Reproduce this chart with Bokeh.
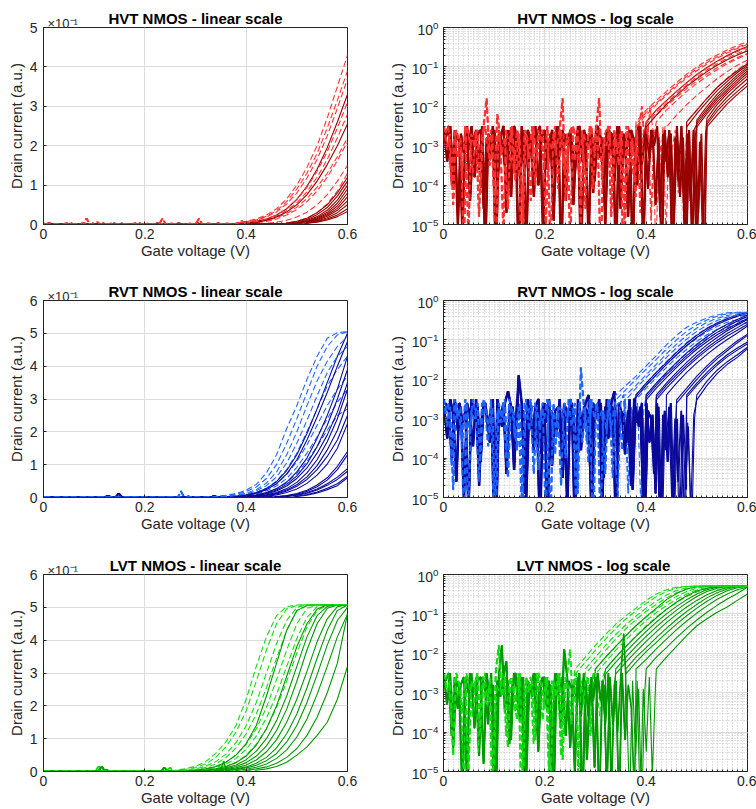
import numpy as np
from bokeh.plotting import figure
from bokeh.layouts import gridplot
from bokeh.models import FixedTicker, LogTicker, Label, CustomJSTickFormatter, Range1d
from bokeh.embed import file_html
from bokeh.resources import INLINE

# ------------------------------------------------------------------ data
V_END = 0.6          # last gate voltage of every sweep (V)
ON_STEP = 0.02       # sampling step of the above-threshold part (V)
NOISE_STEP = 0.006   # sampling step of the noise-floor records (V)
# sampling phase (V) of the noise record of each sweep
NOISE_PHASE = [0.0, 0.003, 0.0015, 0.0045, 0.00075, 0.00375, 0.00225, 0.00525,
               0.0012, 0.0042, 0.0027, 0.0057, 0.0005, 0.0035, 0.002]

x_ticks = [0, 0.2, 0.4, 0.6]
x_minor = [round(0.01 * i, 2) for i in range(61)]
lin_ticks_5 = [0, 0.1, 0.2, 0.3, 0.4, 0.5]
lin_ticks_6 = [0, 0.1, 0.2, 0.3, 0.4, 0.5, 0.6]

# ---- HVT: above-threshold current (a.u.), each sweep ends at 0.6 V
hvt_dark_on = [
    [0.004, 0.008, 0.014, 0.024, 0.04, 0.064, 0.097, 0.14, 0.195, 0.26, 0.33],
    [0.003, 0.006, 0.011, 0.019, 0.032, 0.05, 0.076, 0.11, 0.152, 0.2, 0.255],
    [0.004, 0.008, 0.016, 0.03, 0.05, 0.08, 0.12],
    [0.003, 0.0065, 0.013, 0.025, 0.043, 0.072, 0.11],
    [0.0045, 0.01, 0.02, 0.036, 0.062, 0.10],
    [0.004, 0.0085, 0.017, 0.031, 0.054, 0.09],
    [0.0035, 0.0075, 0.015, 0.027, 0.047, 0.08],
    [0.003, 0.0065, 0.013, 0.024, 0.041, 0.07],
    [0.005, 0.011, 0.021, 0.036, 0.06],
    [0.004, 0.009, 0.017, 0.03, 0.05],
    [0.0035, 0.0075, 0.014, 0.024, 0.04],
    [0.003, 0.006, 0.0115, 0.02, 0.033],
]
hvt_bright_on = [
    [0.004, 0.008, 0.014, 0.024, 0.04, 0.065, 0.10, 0.145, 0.2, 0.27, 0.35, 0.43],
    [0.0035, 0.007, 0.012, 0.021, 0.035, 0.058, 0.09, 0.13, 0.18, 0.245, 0.315, 0.39],
    [0.003, 0.006, 0.011, 0.019, 0.032, 0.052, 0.08, 0.118, 0.165, 0.225, 0.295, 0.37],
    [0.004, 0.008, 0.014, 0.024, 0.04, 0.063, 0.094, 0.135, 0.185, 0.245, 0.31],
    [0.0035, 0.007, 0.012, 0.021, 0.035, 0.055, 0.083, 0.12, 0.165, 0.22, 0.28],
    [0.003, 0.006, 0.010, 0.017, 0.028, 0.044, 0.066, 0.095, 0.13, 0.172, 0.22],
    [0.004, 0.008, 0.014, 0.024, 0.038, 0.058, 0.085, 0.12, 0.162, 0.21],
    [0.003, 0.006, 0.011, 0.019, 0.031, 0.05, 0.076, 0.11, 0.15],
    [0.004, 0.008, 0.016, 0.03, 0.052, 0.085, 0.13],
]
# ---- HVT: noise floor below threshold, log10 of current
hvt_noise_a = [
    -2.6, -3.4, -2.5, -4.1, -2.7, -2.9, -5.2, -2.6, -3.1, -2.5,
    -3.8, -2.7, -2.6, -4.6, -2.8, -3.3, -2.5, -6.0, -2.7, -2.9,
    -3.5, -2.6, -4.3, -2.5, -2.8, -3.9, -2.6, -5.5, -2.7, -3.0,
    -2.5, -4.0, -2.8, -2.6, -3.6, -2.7, -4.9, -2.5, -3.2, -2.6,
    -4.4, -2.7, -2.9, -3.7, -2.5, -6.0, -2.6, -3.0, -2.7, -4.2,
    -2.5, -3.3, -2.8, -5.0, -2.6, -2.7, -3.9, -2.5, -4.6, -2.7,
    -3.1, -2.6, -5.8, -2.8, -2.5, -3.5, -2.7, -4.1, -2.6, -3.0,
    -2.5, -4.8, -2.7, -3.4, -2.6, -6.0, -2.8, -3.9, -2.5, -5.1,
    -2.7, -4.4, -2.6, -6.0, -2.9, -5.3, -2.7, -4.6]
hvt_noise_b = [
    -2.8, -2.5, -3.9, -2.6, -5.0, -2.7, -3.2, -2.5, -4.4, -2.9,
    -2.6, -3.6, -2.5, -5.7, -2.7, -3.0, -2.6, -4.0, -2.8, -2.5,
    -4.7, -2.6, -3.3, -2.7, -6.0, -2.5, -3.7, -2.6, -2.9, -4.3,
    -2.7, -2.5, -5.2, -2.8, -3.1, -2.6, -3.8, -2.5, -6.0, -2.7,
    -3.0, -2.6, -4.5, -2.8, -2.5, -3.4, -2.7, -5.4, -2.6, -3.9,
    -2.5, -2.8, -4.1, -2.6, -3.2, -2.7, -6.0, -2.5, -3.6, -2.8,
    -4.8, -2.6, -2.9, -4.0, -2.5, -5.6, -2.7, -3.3, -2.6, -4.5,
    -2.8, -6.0, -2.6, -3.8, -2.7, -5.0, -2.5, -4.3, -2.8, -6.0,
    -2.6, -5.5, -2.9, -4.7, -2.7, -6.0, -3.0, -5.2]
hvt_noise_c = [
    -2.5, -3.1, -2.7, -4.5, -2.6, -2.9, -3.8, -2.5, -5.3, -2.7,
    -3.0, -2.6, -4.2, -2.5, -1.8, -3.5, -2.7, -6.0, -2.6, -3.2,
    -2.8, -4.6, -2.5, -3.7, -2.6, -2.9, -5.1, -2.7, -3.3, -2.5,
    -4.0, -2.6, -2.8, -3.6, -2.5, -5.8, -2.7, -3.1, -2.6, -1.8,
    -4.4, -2.8, -2.5, -3.4, -2.6, -5.0, -2.7, -3.0, -2.5, -4.1,
    -2.6, -1.8, -3.9, -2.7, -2.5, -4.8, -2.6, -3.2, -2.7, -6.0,
    -2.5, -3.6, -2.8, -4.3, -2.6, -2.0, -3.0, -2.5, -4.9, -2.7,
    -2.6, -3.7, -2.5, -5.4, -2.7, -3.1, -2.6, -4.2, -2.8, -5.6,
    -2.7]
hvt_noise_d = [
    -2.7, -2.5, -4.0, -2.6, -3.3, -2.8, -5.6, -2.5, -2.9, -3.7,
    -2.6, -4.8, -2.7, -2.5, -3.2, -2.6, -4.3, -2.2, -2.8, -5.2,
    -2.6, -3.0, -2.5, -3.9, -2.7, -6.0, -2.6, -2.8, -4.4, -2.5,
    -3.4, -2.7, -2.6, -5.0, -2.8, -3.1, -2.5, -4.1, -2.6, -3.6,
    -2.7, -5.5, -2.5, -2.9, -3.8, -2.6, -4.6, -2.7, -2.5, -3.3,
    -2.6, -6.0, -2.8, -3.0, -2.5, -4.2, -2.7, -3.5, -2.6, -5.1,
    -2.5, -2.9, -3.9, -2.6, -4.7, -2.7, -3.2, -2.0, -2.6, -5.9,
    -2.7, -3.4, -2.5, -4.5, -2.6, -2.9, -4.0, -2.6, -5.1, -2.8,
    -3.6]

# ---- RVT
rvt_dark_on = [
    [0.004, 0.008, 0.015, 0.027, 0.048, 0.082, 0.13, 0.195, 0.27, 0.35, 0.43, 0.50],
    [0.0035, 0.007, 0.013, 0.024, 0.042, 0.072, 0.115, 0.175, 0.245, 0.32, 0.40, 0.475],
    [0.004, 0.008, 0.015, 0.027, 0.047, 0.078, 0.12, 0.18, 0.25, 0.33, 0.43],
    [0.0035, 0.007, 0.013, 0.023, 0.04, 0.066, 0.103, 0.155, 0.22, 0.3, 0.39],
    [0.003, 0.006, 0.011, 0.02, 0.035, 0.058, 0.09, 0.135, 0.19, 0.26, 0.35],
    [0.004, 0.008, 0.015, 0.027, 0.046, 0.075, 0.115, 0.17, 0.24, 0.33],
    [0.0035, 0.007, 0.013, 0.023, 0.039, 0.063, 0.097, 0.145, 0.205, 0.29],
    [0.003, 0.006, 0.011, 0.02, 0.034, 0.055, 0.085, 0.125, 0.175, 0.25],
    [0.004, 0.008, 0.015, 0.026, 0.043, 0.068, 0.102, 0.15, 0.225],
    [0.003, 0.006, 0.012, 0.022, 0.038, 0.06, 0.095, 0.14],
    [0.0025, 0.005, 0.01, 0.019, 0.033, 0.053, 0.085, 0.13],
    [0.004, 0.008, 0.015, 0.026, 0.042, 0.062, 0.088],
    [0.0035, 0.007, 0.013, 0.023, 0.037, 0.055, 0.08],
    [0.004, 0.009, 0.017, 0.028, 0.042, 0.065],
    [0.003, 0.007, 0.014, 0.024, 0.036, 0.06],
]
rvt_bright_on = [
    [0.004, 0.007, 0.012, 0.022, 0.04, 0.075, 0.13, 0.21, 0.28, 0.36, 0.43, 0.485, 0.502, 0.505],
    [0.003, 0.0055, 0.01, 0.018, 0.032, 0.058, 0.10, 0.165, 0.24, 0.32, 0.40, 0.46, 0.495, 0.505],
    [0.004, 0.007, 0.013, 0.024, 0.044, 0.078, 0.13, 0.2, 0.28, 0.355, 0.415, 0.46, 0.49],
    [0.003, 0.006, 0.011, 0.02, 0.036, 0.063, 0.105, 0.165, 0.235, 0.31, 0.38, 0.43, 0.46],
    [0.004, 0.008, 0.015, 0.028, 0.05, 0.085, 0.135, 0.2, 0.27, 0.34, 0.39, 0.43],
    [0.0035, 0.007, 0.013, 0.024, 0.042, 0.07, 0.11, 0.16, 0.22, 0.28, 0.33, 0.37],
    [0.003, 0.006, 0.011, 0.02, 0.035, 0.058, 0.092, 0.135, 0.185, 0.24, 0.29, 0.33],
    [0.004, 0.008, 0.014, 0.026, 0.045, 0.073, 0.11, 0.155, 0.205, 0.25, 0.27],
]
rvt_noise_a = [
    -2.7, -3.5, -2.5, -2.9, -4.6, -2.6, -3.1, -2.8, -5.4, -2.5,
    -3.0, -2.7, -4.1, -2.6, -2.9, -3.6, -2.5, -6.0, -2.8, -3.2,
    -2.6, -2.3, -2.7, -4.3, -2.5, -3.0, -2.8, -5.0, -2.6, -3.4,
    -2.7, -2.5, -3.9, -2.6, -5.6, -2.8, -2.9, -3.3, -2.5, -4.5,
    -2.7, -3.1, -2.6, -6.0, -2.5, -3.8, -2.7, -2.8, -4.2, -2.6,
    -3.0, -2.5, -5.2, -2.7, -3.5, -2.6, -2.3, -4.0, -2.8, -2.9,
    -3.6, -2.5, -4.8, -2.7, -3.2, -2.6, -5.7, -2.8, -3.0, -4.4,
    -2.6, -6.0, -2.9, -3.8, -2.7, -5.1, -3.0, -4.6, -2.8, -6.0,
    -3.1, -5.3, -2.9, -4.4]
rvt_noise_b = [
    -2.6, -2.8, -4.0, -2.5, -3.3, -2.7, -5.1, -2.6, -2.9, -3.7,
    -2.5, -4.7, -2.8, -2.6, -3.2, -2.7, -5.9, -2.5, -3.0, -2.6,
    -4.4, -2.8, -2.7, -3.5, -1.9, -2.6, -4.9, -2.5, -2.9, -3.8,
    -2.7, -6.0, -2.6, -3.1, -2.5, -4.2, -2.8, -2.7, -3.6, -2.6,
    -5.3, -2.5, -2.9, -4.0, -2.7, -3.3, -2.6, -2.4, -5.8, -2.8,
    -3.0, -2.6, -4.5, -2.5, -3.4, -2.7, -6.0, -2.6, -2.9, -3.9,
    -2.8, -4.7, -2.5, -3.1, -2.7, -5.5, -2.6, -3.6, -2.9, -4.9,
    -2.7, -6.0, -2.8, -4.1, -2.6, -5.6, -3.0, -6.0, -2.9, -4.8,
    -3.2, -6.0, -3.0, -5.0]
rvt_noise_c = [
    -2.5, -3.2, -2.7, -4.8, -2.6, -2.9, -3.6, -2.5, -5.4, -2.8,
    -3.0, -2.6, -4.1, -2.5, -2.8, -3.4, -2.7, -6.0, -2.6, -3.1,
    -2.5, -4.5, -2.7, -2.9, -3.8, -2.6, -5.0, -2.5, -3.3, -2.7,
    -2.6, -4.3, -2.8, -3.0, -2.5, -5.7, -2.6, -3.5, -2.7, -2.9,
    -4.0, -2.5, -3.2, -2.6, -4.9, -1.7, -2.7, -3.6, -2.5, -6.0,
    -2.6, -3.0, -2.8, -4.4, -2.5, -3.3, -2.7, -5.2, -2.6, -2.4,
    -3.9, -2.7, -4.6, -2.5, -3.1, -2.6, -5.5]
rvt_noise_d = [
    -2.8, -2.6, -4.2, -2.5, -3.0, -2.7, -5.5, -2.6, -3.4, -2.5,
    -2.9, -4.6, -2.6, -2.7, -3.7, -2.5, -6.0, -2.8, -3.1, -2.6,
    -4.0, -2.5, -2.8, -3.5, -2.7, -5.1, -2.6, -3.0, -2.5, -4.4,
    -2.7, -3.2, -2.6, -5.8, -2.5, -2.9, -3.9, -2.7, -4.7, -2.6,
    -3.1, -2.5, -2.8, -5.3, -2.6, -3.6, -2.7, -4.1, -2.5, -3.0,
    -2.6, -5.9, -2.8, -3.3, -2.5, -4.5, -2.7, -2.6, -3.8, -2.5,
    -4.9, -2.7, -3.2, -2.6, -5.2, -2.8, -3.0]

# ---- LVT
lvt_dark_on = [
    [0.004, 0.008, 0.015, 0.028, 0.05, 0.085, 0.14, 0.23, 0.33, 0.43, 0.49, 0.506, 0.508, 0.508, 0.508, 0.508],
    [0.004, 0.008, 0.015, 0.027, 0.047, 0.08, 0.13, 0.2, 0.29, 0.38, 0.45, 0.495, 0.507, 0.508, 0.508],
    [0.003, 0.006, 0.011, 0.02, 0.036, 0.062, 0.1, 0.155, 0.23, 0.32, 0.41, 0.475, 0.503, 0.508, 0.508],
    [0.004, 0.008, 0.015, 0.027, 0.047, 0.078, 0.125, 0.19, 0.275, 0.37, 0.45, 0.497, 0.507, 0.508],
    [0.003, 0.006, 0.011, 0.02, 0.035, 0.06, 0.097, 0.15, 0.22, 0.305, 0.395, 0.465, 0.502, 0.508],
    [0.004, 0.008, 0.014, 0.025, 0.043, 0.072, 0.115, 0.175, 0.255, 0.345, 0.43, 0.49, 0.507],
    [0.003, 0.006, 0.011, 0.019, 0.033, 0.055, 0.09, 0.14, 0.21, 0.295, 0.385, 0.46, 0.5],
    [0.004, 0.007, 0.013, 0.023, 0.04, 0.066, 0.105, 0.16, 0.235, 0.32, 0.41, 0.48],
    [0.004, 0.008, 0.014, 0.025, 0.043, 0.07, 0.11, 0.165, 0.24, 0.33, 0.48],
    [0.004, 0.008, 0.015, 0.028, 0.05, 0.075, 0.11, 0.15, 0.22, 0.32],
]
lvt_bright_on = [
    [0.004, 0.008, 0.016, 0.03, 0.055, 0.09, 0.14, 0.22, 0.32, 0.41, 0.475, 0.502, 0.507, 0.508, 0.508, 0.508, 0.508, 0.508],
    [0.003, 0.006, 0.012, 0.023, 0.043, 0.075, 0.12, 0.185, 0.275, 0.37, 0.45, 0.495, 0.506, 0.508, 0.508, 0.508, 0.508, 0.508],
    [0.004, 0.008, 0.016, 0.03, 0.053, 0.088, 0.14, 0.21, 0.3, 0.39, 0.46, 0.5, 0.507, 0.508, 0.508, 0.508, 0.508],
    [0.003, 0.006, 0.012, 0.023, 0.042, 0.072, 0.115, 0.175, 0.255, 0.345, 0.43, 0.49, 0.505, 0.508, 0.508, 0.508, 0.508],
    [0.004, 0.008, 0.015, 0.028, 0.05, 0.083, 0.13, 0.195, 0.28, 0.37, 0.45, 0.497, 0.507, 0.508, 0.508, 0.508],
    [0.003, 0.006, 0.012, 0.022, 0.04, 0.068, 0.108, 0.163, 0.235, 0.32, 0.405, 0.47, 0.502, 0.508, 0.508, 0.508],
    [0.004, 0.008, 0.015, 0.028, 0.05, 0.083, 0.13, 0.195, 0.275, 0.36, 0.44, 0.49, 0.506, 0.508, 0.508],
]
lvt_noise_a = [
    -2.6, -3.3, -2.5, -4.4, -2.7, -2.9, -5.6, -2.6, -3.0, -2.5,
    -3.9, -2.7, -2.6, -4.8, -2.5, -3.2, -2.8, -6.0, -2.6, -1.8,
    -3.5, -2.7, -4.2, -2.5, -2.9, -3.7, -2.6, -5.3, -2.8, -3.1,
    -2.5, -4.5, -2.7, -2.6, -3.4, -2.8, -6.0, -2.5, -3.0, -2.6,
    -4.1, -2.7, -2.9, -5.0, -2.6, -3.6, -2.5, -4.7, -2.8, -3.2,
    -2.6, -6.0, -2.7, -3.8, -2.5, -5.4, -2.8, -4.0, -2.6, -1.5,
    -3.1, -5.8, -2.7, -4.6, -2.9, -6.0, -3.0, -5.2, -2.8, -4.3,
    -3.0]
lvt_noise_b = [
    -2.7, -2.5, -4.1, -2.6, -3.4, -2.8, -2.6, -5.2, -2.5, -3.0,
    -2.7, -4.6, -2.6, -2.9, -3.8, -2.5, -6.0, -2.7, -3.1, -2.6,
    -2.2, -4.3, -2.8, -2.5, -3.5, -2.6, -5.7, -2.7, -3.0, -2.5,
    -4.0, -2.8, -2.6, -3.3, -2.7, -5.0, -2.5, -2.9, -3.9, -1.9,
    -2.6, -4.4, -2.8, -3.1, -2.5, -6.0, -2.7, -3.6, -2.6, -4.9,
    -2.5, -3.2, -2.8, -5.5, -2.6, -3.8, -2.7, -6.0, -2.5, -4.2,
    -2.8, -3.4, -5.6, -2.7, -6.0, -2.9, -4.5, -2.6, -5.1, -2.9,
    -4.0]
lvt_noise_c = [
    -2.5, -3.0, -2.7, -4.6, -2.5, -2.8, -3.5, -2.6, -5.1, -2.7,
    -2.9, -2.5, -4.0, -2.6, -3.3, -2.8, -6.0, -2.5, -1.8, -3.1,
    -2.6, -4.4, -2.7, -2.9, -3.7, -2.5, -5.5, -2.6, -3.0, -2.7,
    -4.2, -2.5, -2.8, -3.4, -2.6, -5.9, -2.7, -3.1, -2.5, -4.7,
    -2.6, -2.9, -3.8, -2.5, -5.0, -2.7, -3.3, -2.6, -4.1, -2.5,
    -2.8, -3.6, -2.6, -4.8]
lvt_noise_d = [
    -2.7, -2.5, -3.8, -2.6, -3.1, -2.8, -5.3, -2.5, -2.9, -3.6,
    -2.6, -4.5, -2.7, -2.5, -3.2, -2.6, -5.8, -2.8, -3.0, -2.5,
    -4.1, -2.7, -2.6, -3.5, -2.5, -6.0, -2.8, -3.0, -2.6, -4.3,
    -2.5, -2.9, -3.7, -2.6, -5.0, -2.7, -3.2, -2.5, -4.6, -2.8,
    -2.6, -1.9, -3.4, -2.5, -5.4, -2.7, -3.0, -2.6, -4.0, -2.5,
    -2.9, -3.9, -2.6, -5.2]

titles = [
    ("HVT NMOS - linear scale", "HVT NMOS - log scale"),
    ("RVT NMOS - linear scale", "RVT NMOS - log scale"),
    ("LVT NMOS - linear scale", "LVT NMOS  - log scale"),
]
x_label = "Gate voltage (V)"
y_label = "Drain current (a.u.)"
y_exponent = "×10⁻¹"

# ------------------------------------------------------------------ style
FONT = "Liberation Sans"
AX = "#262626"
GRID = "#dcdcdc"
MINOR = "#c4c4c4"
COLORS = {
    "hvt": ("#990000", "#ff3333"),
    "rvt": ("#0a0a9c", "#1f66ff"),
    "lvt": ("#009a00", "#11dd11"),
}


def build(on_list, noise_pair):
    xs, ys = [], []
    for i, on in enumerate(on_list):
        n = len(on)
        start = V_END - ON_STEP * (n - 1)
        nz = np.array(noise_pair[i % 2], dtype=float)
        nx = np.arange(len(nz)) * NOISE_STEP + NOISE_PHASE[i % len(NOISE_PHASE)]
        m = nx < start - 1e-9
        x = np.concatenate([nx[m], start + ON_STEP * np.arange(n)])
        y = np.concatenate([10.0 ** nz[m], np.array(on, dtype=float)])
        xs.append(x.tolist())
        ys.append(y.tolist())
    return xs, ys


def style_axis(ax, label):
    ax.axis_line_color = AX
    ax.major_tick_line_color = AX
    ax.minor_tick_line_color = AX
    ax.major_tick_in = 3
    ax.major_tick_out = 0
    ax.minor_tick_in = 2
    ax.minor_tick_out = 0
    ax.major_label_text_font = FONT
    ax.major_label_text_font_size = "14px"
    ax.major_label_text_color = AX
    ax.axis_label = label
    ax.axis_label_text_font = FONT
    ax.axis_label_text_font_size = "15px"
    ax.axis_label_text_font_style = "normal"
    ax.axis_label_text_color = AX


def panel(title, log, lin_ticks, dark, bright, cols, left_col, top_b, bot_b):
    lb, rb = (43, 16) if left_col else (80, 9)
    p = figure(frame_width=304, frame_height=197,
               min_border_left=lb, min_border_right=rb,
               min_border_top=top_b, min_border_bottom=bot_b,
               x_range=Range1d(0, 0.6),
               y_range=Range1d(1e-5, 1.0) if log else Range1d(0, lin_ticks[-1]),
               y_axis_type="log" if log else "linear",
               output_backend="svg", toolbar_location=None, title=title)
    p.background_fill_color = "white"
    p.border_fill_color = "white"
    p.outline_line_color = AX
    p.outline_line_width = 1
    p.title.text_font = FONT
    p.title.text_font_size = "15px"
    p.title.text_font_style = "bold"
    p.title.text_color = "black"
    p.title.align = "center"
    p.title.standoff = 2

    if log:
        xt = FixedTicker(ticks=x_ticks, minor_ticks=x_minor)
        yt = LogTicker(desired_num_ticks=6, num_minor_ticks=10)
    else:
        xt = FixedTicker(ticks=x_ticks)
        yt = FixedTicker(ticks=lin_ticks)
    p.xaxis.ticker = xt
    p.yaxis.ticker = yt
    style_axis(p.xaxis[0], x_label)
    style_axis(p.yaxis[0], y_label)
    p.xaxis.major_label_standoff = 4
    p.xaxis.axis_label_standoff = 0
    p.yaxis.major_label_standoff = 6 if not log else 5
    p.yaxis.axis_label_standoff = 2 if not log else 3
    if not log:
        p.yaxis.formatter = CustomJSTickFormatter(code="return Math.round(tick*10).toString();")
        p.xaxis.minor_tick_line_color = None
        p.yaxis.minor_tick_line_color = None

    p.xgrid.grid_line_color = GRID
    p.ygrid.grid_line_color = GRID
    p.xgrid.grid_line_width = 1
    p.ygrid.grid_line_width = 1
    if log:
        for g in (p.xgrid[0], p.ygrid[0]):
            g.minor_grid_line_color = MINOR
            g.minor_grid_line_dash = "1 2"
            g.minor_grid_line_width = 1

    dark_col, bright_col = cols
    dxs, dys = dark
    bxs, bys = bright
    hd, hb = len(dxs) // 2, len(bxs) // 2
    # interleave the two families so that neither colour hides the other
    p.multi_line(xs=dxs[hd:], ys=dys[hd:], line_color=dark_col, line_width=1.1)
    p.multi_line(xs=bxs[hb:], ys=bys[hb:], line_color=bright_col, line_width=1.1, line_dash="6 3")
    p.multi_line(xs=dxs[:hd], ys=dys[:hd], line_color=dark_col, line_width=1.1)
    p.multi_line(xs=bxs[:hb], ys=bys[:hb], line_color=bright_col, line_width=1.1, line_dash="6 3")

    if not log:
        # exponent note of the linear y axis, in the top side panel next to the frame;
        # the title is pulled down into the same row
        p.add_layout(Label(x=4, y=0, x_units="screen", y_units="screen", y_offset=4,
                           text=y_exponent, text_font=FONT, text_font_size="13px",
                           text_color=AX, text_baseline="alphabetic"), "above")
        p.title.standoff = -29
    return p


datasets = [
    ("hvt", hvt_dark_on, hvt_bright_on, (hvt_noise_a, hvt_noise_b), (hvt_noise_c, hvt_noise_d), lin_ticks_5),
    ("rvt", rvt_dark_on, rvt_bright_on, (rvt_noise_a, rvt_noise_b), (rvt_noise_c, rvt_noise_d), lin_ticks_6),
    ("lvt", lvt_dark_on, lvt_bright_on, (lvt_noise_a, lvt_noise_b), (lvt_noise_c, lvt_noise_d), lin_ticks_6),
]
borders = [(27, 55), (21, 56), (21, 38)]

rows = []
for r, (key, d_on, b_on, d_nz, b_nz, lt) in enumerate(datasets):
    dark = build(d_on, d_nz)
    bright = build(b_on, b_nz)
    tb, bb = borders[r]
    p_lin = panel(titles[r][0], False, lt, dark, bright, COLORS[key], True, tb, bb)
    p_log = panel(titles[r][1], True, lt, dark, bright, COLORS[key], False, tb, bb)
    rows.append([p_lin, p_log])

layout = gridplot(rows, toolbar_location=None)
open("out.html", "w").write(file_html(layout, INLINE))
